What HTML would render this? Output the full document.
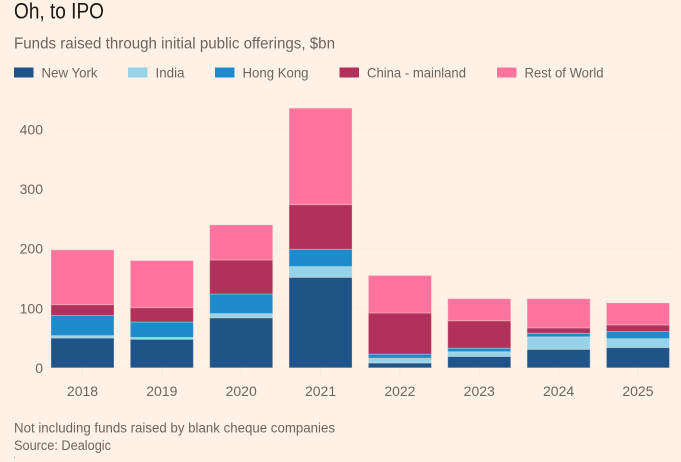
<!DOCTYPE html>
<html>
<head>
<meta charset="utf-8">
<style>
html,body{margin:0;padding:0;background:#fff1e5;width:681px;height:462px;overflow:hidden}
svg{display:block;font-family:"Liberation Sans",sans-serif}
#grid line{stroke:#fceee2}
#axes text,#legend text{filter:blur(0.2px)}
</style>
</head>
<body>
<svg id="chart" width="681" height="462" viewBox="0 0 681 462" xmlns="http://www.w3.org/2000/svg">
<rect width="681" height="462" fill="#fff1e5"/>
<text x="14" y="18.5" font-size="22" fill="#1a1817" textLength="90" lengthAdjust="spacingAndGlyphs">Oh, to IPO</text>
<text x="14" y="48.5" font-size="15.5" fill="#6b6561" textLength="321" lengthAdjust="spacingAndGlyphs">Funds raised through initial public offerings, $bn</text>
<g id="legend"></g>
<g id="grid"></g>
<g id="bars"></g>
<g id="axes"></g>
<text x="14" y="432.5" font-size="13.5" fill="#6b6561" textLength="321" lengthAdjust="spacingAndGlyphs">Not including funds raised by blank cheque companies</text>
<text x="14" y="450" font-size="13.5" fill="#6b6561" textLength="97" lengthAdjust="spacingAndGlyphs">Source: Dealogic</text>
<rect x="14" y="457" width="1" height="1" fill="#8a8480"/>
</svg>
<script>
var categories = ["2018","2019","2020","2021","2022","2023","2024","2025"];
var seriesNames = ["New York","India","Hong Kong","China - mainland","Rest of World"];
var seriesColors = ["#1f5489","#96d2e8","#1e8bcc","#b1315c","#ff739f"];
var newYork = [50,48,84,152,8,19,31,34];
var india = [4,3,7,18,8,8,21,15];
var hongKong = [34,26,33,29,7,6,6,12];
var chinaMainland = [18,24,57,75,69,46,9,11];
var restOfWorld = [92,79,59,162,63,37,49,37];
var yTicks = [0,100,200,300,400];
var legendLabelWidths = [56,29,66,99,79];
var allSeries = [newYork,india,hongKong,chinaMainland,restOfWorld];

var NS = "http://www.w3.org/2000/svg";
function yScale(v){ return 367.8 - v * 0.5955; }
function xBand(i){ return 51 + i * 79.35; }
var barWidth = 63;
function make(tag, attrs, parent){
  var el = document.createElementNS(NS, tag);
  for (var k in attrs) el.setAttribute(k, attrs[k]);
  parent.appendChild(el);
  return el;
}
var gridG = document.getElementById("grid");
var axesG = document.getElementById("axes");
var barsG = document.getElementById("bars");
var legendG = document.getElementById("legend");

yTicks.forEach(function(t){
  var line = make("line", {x1:51, x2:673, y1:yScale(t), y2:yScale(t), "stroke-width":1}, gridG);
  
  
  var label = make("text", {x:43, y:yScale(t)+5, "text-anchor":"end", "font-size":14, fill:"#6b6561"}, axesG);
  
  
  label.textContent = t;
});

categories.forEach(function(c, i){
  var cx = xBand(i) + barWidth / 2;
  var tick = make("line", {x1:cx, x2:cx, y1:yScale(0), y2:yScale(0)+10, stroke:"#f8e9dd", "stroke-width":1}, axesG);
  
  
  var label = make("text", {x:cx, y:396, "text-anchor":"middle", "font-size":14, fill:"#6b6561"}, axesG);
  
  
  label.textContent = c;
  var total = 0;
  allSeries.forEach(function(values, s){
    var y0 = yScale(total);
    total += values[i];
    var y1 = yScale(total);
    var bar = make("rect", {x:xBand(i), y:y1, width:barWidth, height:y0-y1, fill:seriesColors[s], stroke:"#fff1e5", "stroke-opacity":0.3, "stroke-width":1}, barsG);
    
    
  });
});

var legendX = [14,128,215,339.5,497];
seriesNames.forEach(function(name, s){
  var swatch = make("rect", {x:legendX[s], y:67.5, width:19.5, height:10, fill:seriesColors[s]}, legendG);
  
  
  var label = make("text", {x:legendX[s]+27.5, y:77.5, "font-size":14, fill:"#6b6561", textLength:legendLabelWidths[s], lengthAdjust:"spacingAndGlyphs"}, legendG);
  
  
  label.textContent = name;
});
</script>
</body>
</html>
